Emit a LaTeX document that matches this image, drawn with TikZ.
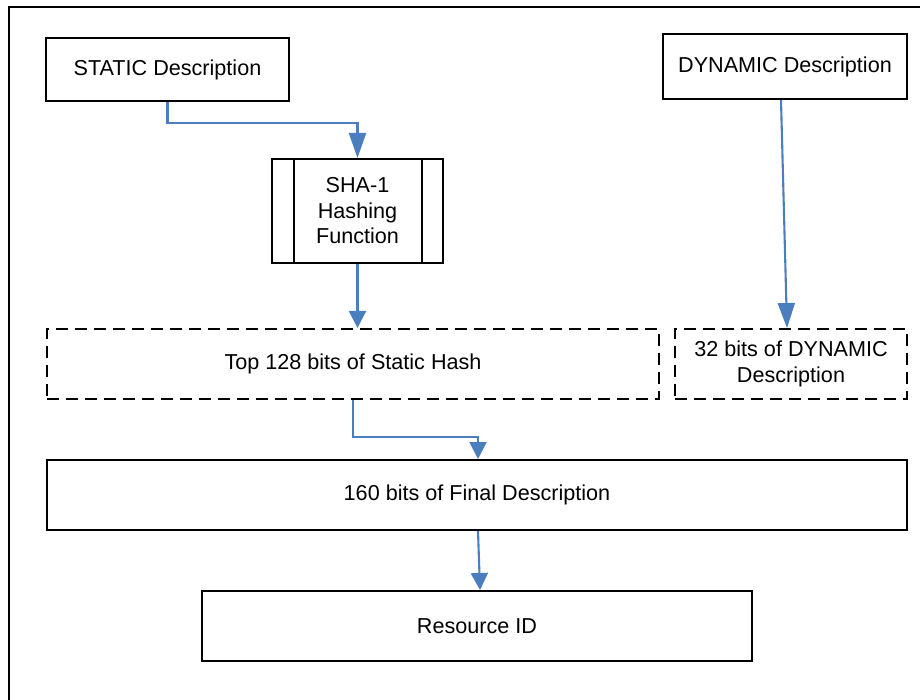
\documentclass[tikz,border=0pt]{standalone}
\usepackage{fontspec}
\setmainfont{Liberation Sans}
\usetikzlibrary{arrows.meta}
\definecolor{flowblue}{RGB}{74,126,190}
\begin{document}
\begin{tikzpicture}[x=1pt,y=-1pt,
  box/.style={draw=black,line width=2pt,inner sep=0pt,align=center,
    font=\fontsize{21.6}{25.5}\selectfont},
  dbox/.style={box,dash pattern=on 12pt off 7pt},
  arr/.style={draw=flowblue,line width=2.1pt,
    -{Triangle[length=17pt,width=17pt]}},
  longarr/.style={arr,-{Triangle[length=25pt,width=17pt]}}]
\useasboundingbox (0,0) rectangle (920,700);
\clip (0,0) rectangle (920,700);
% outer frame, running off the right and bottom edges
\draw[line width=2pt] (9,7) rectangle (940,720);

\node[box,minimum width=243pt,minimum height=63pt] (static) at (167.5,69.5) {STATIC Description};
\node[box,minimum width=244pt,minimum height=65pt] (dynamic) at (785,66.5) {DYNAMIC Description};
\node[box,minimum width=171pt,minimum height=104pt] (sha) at (357.5,211) {SHA-1\\Hashing\\Function};
\draw[line width=2pt] ([xshift=22.5pt]sha.north west) -- ([xshift=22.5pt]sha.south west);
\draw[line width=2pt] ([xshift=-22.5pt]sha.north east) -- ([xshift=-22.5pt]sha.south east);
\node[dbox,minimum width=612pt,minimum height=70pt] (top) at (353,364) {Top 128 bits of Static Hash};
\node[dbox,minimum width=232pt,minimum height=70pt] (dyn) at (791,364) {32 bits of DYNAMIC\\Description};
\node[box,minimum width=860pt,minimum height=70pt] (final) at (477,495) {160 bits of Final Description};
\node[box,minimum width=550pt,minimum height=70pt] (res) at (477,626) {Resource ID};

\draw[longarr] (static.south) -- ++(0,21) -| (sha.north);
\draw[arr] (sha.south) -- (sha.south |- top.north);
\draw[longarr] ([xshift=-4pt]dynamic.south) -- ([xshift=-4pt]dyn.north);
\draw[arr] (top.south) -- ++(0,37) -| ([xshift=1pt]final.north);
\draw[arr] ([xshift=1pt]final.south) -- ([xshift=3pt]res.north);
\end{tikzpicture}
\end{document}
